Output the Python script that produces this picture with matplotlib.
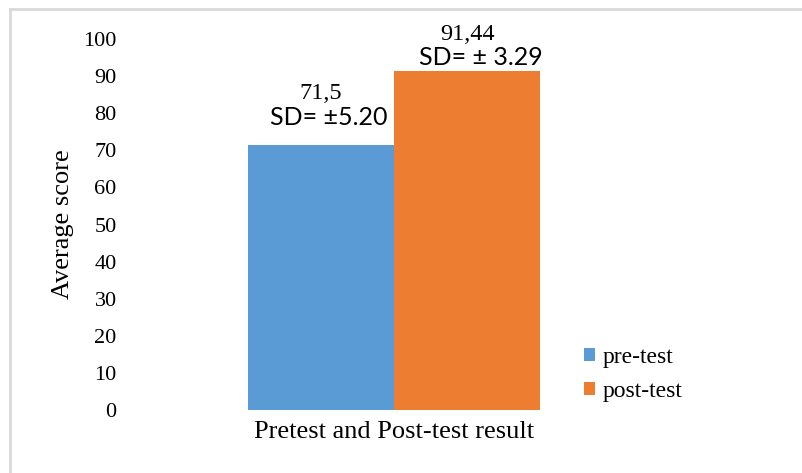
import matplotlib
matplotlib.use("Agg")
import matplotlib.pyplot as plt
from matplotlib.lines import Line2D
import numpy as np

# data
category = "Pretest and Post-test result"
series = ["pre-test", "post-test"]
means = [71.5, 91.44]
mean_labels = ["71,5", "91,44"]
sd_labels = ["SD= \u00b15.20", "SD= \u00b1 3.29"]
colors = ["#5B9BD5", "#ED7D31"]
yticks = list(range(0, 101, 10))

# label placement (pixels above bar top / right shift), as in the reference
mean_dy = [46, 31]
sd_dy = [20, 6]
sd_dx = [8, 14]

W, H = 803, 473
fig = plt.figure(figsize=(W / 100, H / 100), dpi=100)
px = 72 / 100  # points per pixel

# light gray chart border (top and left visible)
fig.add_artist(Line2D([10 / W, 10 / W], [0, 1 - 9 / H], color="#D9D9D9",
                      lw=2, transform=fig.transFigure))
fig.add_artist(Line2D([10 / W, 1], [1 - 9 / H, 1 - 9 / H], color="#D9D9D9",
                      lw=2, transform=fig.transFigure))

left, right = 125 / W, 663 / W
bottom, top = 1 - 410 / H, 1 - 39 / H
ax = fig.add_axes([left, bottom, right - left, top - bottom])

width = 0.5
offsets = np.array([-0.25, 0.25])
for i in range(len(series)):
    ax.bar(offsets[i], means[i], width=width, color=colors[i],
           label=series[i])

ax.set_xlim(-0.92, 0.92)
ax.set_ylim(0, 100)
ax.set_yticks(yticks)
ax.set_yticklabels([str(t) for t in yticks], family="Liberation Serif",
                   fontsize=16)
ax.tick_params(axis="y", length=0, pad=6)
ax.set_xticks([0])
ax.set_xticklabels([category], family="Liberation Serif", fontsize=19)
ax.tick_params(axis="x", length=0, pad=8)
for s in ax.spines.values():
    s.set_visible(False)

ax.set_ylabel("Average score", family="Liberation Serif", fontsize=19)
ax.yaxis.set_label_coords((74 - 125) / (663 - 125), 0.5)

# value + SD labels above each bar
for i in range(len(series)):
    ax.annotate(sd_labels[i], (offsets[i], means[i]),
                xytext=(sd_dx[i] * px, sd_dy[i] * px),
                textcoords="offset points", ha="center", va="baseline",
                family="Lato", fontsize=18)
    ax.annotate(mean_labels[i], (offsets[i], means[i]),
                xytext=(0, mean_dy[i] * px),
                textcoords="offset points", ha="center", va="baseline",
                family="Liberation Serif", fontsize=17.5)

leg = fig.legend(loc="upper left", bbox_to_anchor=(584 / W, 1 - 347 / H),
                 frameon=False,
                 prop={"family": "Liberation Serif", "size": 17},
                 handlelength=0.45, handleheight=0.45, handletextpad=0.35,
                 labelspacing=0.55, borderpad=0, borderaxespad=0)

fig.savefig("out.png", dpi=100, facecolor="white")
